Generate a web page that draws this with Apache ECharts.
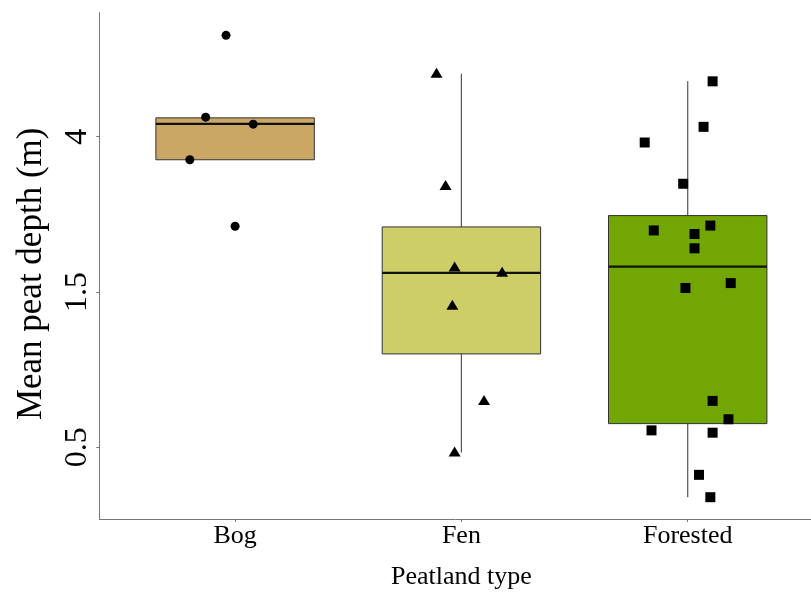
<!DOCTYPE html>
<html>
<head>
<meta charset="utf-8">
<script src="https://cdn.jsdelivr.net/npm/echarts@6/dist/echarts.min.js"></script>
<style>
html,body{margin:0;padding:0;background:#fff;}
#chart{width:811px;height:593px;}
</style>
</head>
<body>
<div id="chart"></div>
<script>
// ---- data (mean peat depth, m) ----
const categories = ['Bog', 'Fen', 'Forested'];
const yTickValues = [0.5, 1.5, 4];

const bogDepth  = [7.41, 4.51, 4.32, 3.47, 2.29];
const bogJitter = [-0.04, -0.13, 0.08, -0.20, 0.00];

const fenDepth  = [5.87, 2.95, 1.76, 1.70, 1.37, 0.71, 0.48];
const fenJitter = [-0.11, -0.07, -0.03, 0.18, -0.04, 0.10, -0.03];

const forestedDepth  = [5.61, 4.25, 3.86, 2.99, 2.23, 2.18, 2.30, 1.99, 1.54, 1.59, 0.71, 0.62, 0.57, 0.56, 0.40, 0.33];
const forestedJitter = [0.11, 0.07, -0.19, -0.02, -0.15, 0.03, 0.10, 0.03, -0.01, 0.19, 0.11, 0.18, -0.16, 0.11, 0.05, 0.10];

const boxLowerWhisker = [3.47, 0.48, 0.33];
const boxQ1           = [3.47, 0.99, 0.60];
const boxMedian       = [4.33, 1.70, 1.77];
const boxQ3           = [4.49, 2.28, 2.45];
const boxUpperWhisker = [4.49, 5.87, 5.61];

const boxColors = ['#CBA765', '#CECE69', '#72A603'];

// ---- y scale transform ----
const tr = v => Math.log(1.5 * v + 0.25) / Math.log(2.5);
const yTickT = yTickValues.map(tr);

const boxData = categories.map((c, i) => [i, tr(boxLowerWhisker[i]), tr(boxQ1[i]), tr(boxMedian[i]), tr(boxQ3[i]), tr(boxUpperWhisker[i])]);
const pts = (depth, jitter, idx) => depth.map((d, k) => [idx + jitter[k], tr(d)]);

const FONT = "'Liberation Serif', 'Times New Roman', serif";
const BOX_W = 0.7;

const chart = echarts.init(document.getElementById('chart'), null, {renderer: 'canvas'});
chart.setOption({
  animation: false,
  backgroundColor: '#fff',
  grid: {left: 99.3, top: 12.7, width: 724.2, height: 506.3, outerBoundsMode: 'none', containLabel: false},
  xAxis: {
    type: 'value', min: -0.6, max: 2.6,
    name: 'Peatland type', nameLocation: 'middle', nameGap: 45,
    nameTextStyle: {fontFamily: FONT, fontSize: 26, color: '#000'},
    axisLine: {onZero: false, lineStyle: {color: '#777', width: 1}},
    axisTick: {customValues: [0, 1, 2], length: 3, lineStyle: {color: '#777'}},
    axisLabel: {customValues: [0, 1, 2], formatter: v => categories[Math.round(v)], fontFamily: FONT, fontSize: 26, color: '#000', margin: 4},
    splitLine: {show: false}
  },
  yAxis: {
    type: 'value', min: tr(0.5) - 0.4617, max: tr(0.5) + 2.7985,
    name: 'Mean peat depth (m)', nameLocation: 'middle', nameGap: 50, nameRotate: 90,
    nameTextStyle: {fontFamily: FONT, fontSize: 35, color: '#000', padding: [0, 16, 0, 0]},
    axisLine: {onZero: false, lineStyle: {color: '#777', width: 1}},
    axisTick: {customValues: yTickT, length: 3, lineStyle: {color: '#777'}},
    axisLabel: {
      customValues: yTickT, rotate: 90, margin: 6,
      formatter: v => { const i = yTickT.findIndex(t => Math.abs(t - v) < 1e-6); return i >= 0 ? String(yTickValues[i]) : ''; },
      fontFamily: FONT, fontSize: 32, color: '#000'
    },
    splitLine: {show: false}
  },
  series: [
    {
      type: 'custom', z: 1,
      data: boxData,
      renderItem: (params, api) => {
        const x = api.value(0), lo = api.value(1), q1 = api.value(2), med = api.value(3), q3 = api.value(4), hi = api.value(5);
        const half = api.size([BOX_W, 0])[0] / 2;
        const pLo = api.coord([x, lo]), pQ1 = api.coord([x, q1]), pMed = api.coord([x, med]), pQ3 = api.coord([x, q3]), pHi = api.coord([x, hi]);
        const children = [];
        const wStyle = {stroke: '#555', lineWidth: 1.2};
        if (hi > q3 + 1e-9) children.push({type: 'line', shape: {x1: pQ3[0], y1: pQ3[1], x2: pHi[0], y2: pHi[1]}, style: wStyle});
        if (lo < q1 - 1e-9) children.push({type: 'line', shape: {x1: pQ1[0], y1: pQ1[1], x2: pLo[0], y2: pLo[1]}, style: wStyle});
        children.push({type: 'rect', shape: {x: pQ3[0] - half, y: pQ3[1], width: 2 * half, height: pQ1[1] - pQ3[1]},
          style: {fill: boxColors[params.dataIndex], stroke: '#333', lineWidth: 1}});
        children.push({type: 'line', shape: {x1: pMed[0] - half, y1: pMed[1], x2: pMed[0] + half, y2: pMed[1]},
          style: {stroke: '#111', lineWidth: 2.2}});
        return {type: 'group', children};
      }
    },
    {type: 'scatter', z: 3, symbol: 'circle', symbolSize: 9, itemStyle: {color: '#000', opacity: 1}, data: pts(bogDepth, bogJitter, 0)},
    {type: 'scatter', z: 3, symbol: 'triangle', symbolSize: [12, 10], symbolOffset: [0, -1], itemStyle: {color: '#000', opacity: 1}, data: pts(fenDepth, fenJitter, 1)},
    {type: 'scatter', z: 3, symbol: 'rect', symbolSize: 10, itemStyle: {color: '#000', opacity: 1}, data: pts(forestedDepth, forestedJitter, 2)}
  ]
});
</script>
</body>
</html>
